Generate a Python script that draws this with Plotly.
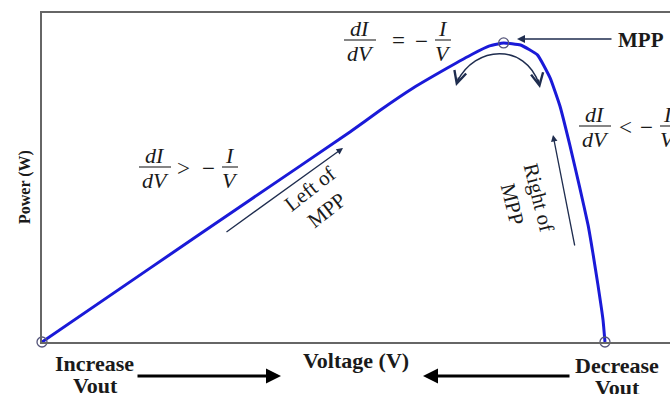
import plotly.graph_objects as go

# ---- data (P-V curve of a PV module) ----
voltage = [0, 3.84, 7.39, 10.94, 12.0, 13.2, 14.4, 15.3, 15.9, 16.4, 17.0,
           17.6, 18.05, 18.4, 18.75, 19.1, 19.4, 19.57, 19.75, 19.93, 20.0]
power = [0, 24.7, 47.5, 70.2, 77.4, 85.0, 91.6, 96.3, 99.0, 100, 99.3,
         96.0, 88.3, 78.9, 65.9, 51.8, 39.1, 29.8, 19.1, 7.4, 0]
marker_v = [0, 16.4, 20.0]
marker_p = [0, 100, 0]

X_MAX = 22.31
Y_MAX = 110.0

W, H = 670, 394
ML, MR, MT, MB = 42, 0, 13, 52
PW, PH = W - ML - MR, H - MT - MB


def px_(px):
    return (px - ML) / PW


def py_(py):
    return (H - MB - py) / PH


SERIF = "Liberation Serif"
NAVY = "#1f2d4f"
TXT = "#1a1a1a"

fig = go.Figure()
fig.add_trace(go.Scatter(x=voltage, y=power, mode="lines",
                         line=dict(color="#1a1ad8", width=3, shape="spline", smoothing=0.4),
                         hoverinfo="skip", showlegend=False))
fig.add_trace(go.Scatter(x=marker_v, y=marker_p, mode="markers",
                         marker=dict(symbol="circle-open", size=10, color="#55557a",
                                     line=dict(width=1.3)),
                         cliponaxis=False, hoverinfo="skip", showlegend=False))

ann = []
shapes = []


def text(px, py, s, size=20, bold=False, italic=False, angle=0):
    if bold:
        s = "<b>" + s + "</b>"
    if italic:
        s = "<i>" + s + "</i>"
    ann.append(dict(x=px_(px), y=py_(py), xref="paper", yref="paper", text=s,
                    showarrow=False, textangle=angle, xanchor="center", yanchor="middle",
                    font=dict(family=SERIF, size=size, color=TXT)))


def frac(cx, bar_y, num, den, half=16, size=22):
    text(cx, bar_y - 12, num, size=size, italic=True)
    text(cx, bar_y + 13, den, size=size, italic=True)
    shapes.append(dict(type="line", xref="paper", yref="paper",
                       x0=px_(cx - half), x1=px_(cx + half),
                       y0=py_(bar_y), y1=py_(bar_y), line=dict(color="#333", width=1.2)))


def arrow(x0, y0, x1, y1, color=NAVY, width=1.5, head=2, size=1.0):
    ann.append(dict(x=px_(x1), y=py_(y1), ax=x0 - x1, ay=y0 - y1, xref="paper", yref="paper",
                    axref="pixel", ayref="pixel", text="", showarrow=True, arrowhead=head,
                    arrowsize=size, arrowwidth=width, arrowcolor=color))


# fractions
frac(155, 167, "dI", "dV")
text(183, 168, "&gt;", size=23)
text(208, 168, "−", size=23)
frac(230, 167, "I", "V", half=8)

frac(360, 40, "dI", "dV")
text(398, 40, "=", size=23)
text(421, 41, "−", size=23)
frac(443, 40, "I", "V", half=8)

frac(595, 126, "dI", "dV")
text(625, 128, "&lt;", size=23)
text(646, 128, "−", size=23)
frac(668, 126, "I", "V", half=8)

# MPP label + arrow
text(641, 40, "MPP", size=21, bold=True)
arrow(613, 39, 517, 39, width=1.6)

# Left / right of MPP
text(318, 199, "Left of<br>MPP", size=21, angle=-38)
arrow(225, 233, 343, 148, width=1.3)
text(526, 200, "Right of<br>MPP", size=21, angle=76)
arrow(575, 247, 553, 135, width=1.3)

# curved double arrow near MPP
shapes.append(dict(type="path", xref="paper", yref="paper",
                   path="M {:.5f},{:.5f} C {:.5f},{:.5f} {:.5f},{:.5f} {:.5f},{:.5f}".format(
                       px_(457), py_(82), px_(475), py_(45), px_(525), py_(43), px_(539), py_(84)),
                   line=dict(color=NAVY, width=1.5)))
arrow(459, 76, 456, 86, width=1.5, head=5, size=1.6)
arrow(538, 78, 540, 88, width=1.5, head=5, size=1.6)

# axis titles and direction labels
text(356, 360, "Voltage (V)", size=22, bold=True)
text(25, 187, "Power (W)", size=16, bold=True, angle=-90)
text(94, 363, "Increase", size=22, bold=True)
text(95, 385, "Vout", size=22, bold=True)
text(617, 365, "Decrease", size=22, bold=True)
text(617, 387, "Vout", size=22, bold=True)
arrow(136, 376, 281, 376, color="black", width=3, head=2, size=1.0)
arrow(571, 376, 423, 376, color="black", width=3, head=2, size=1.0)

fig.update_layout(
    width=W, height=H,
    margin=dict(l=ML, r=MR, t=MT, b=MB),
    plot_bgcolor="white", paper_bgcolor="white",
    xaxis=dict(range=[0, X_MAX], showline=True, linecolor="#666", linewidth=1.5,
               mirror=True, showgrid=False, zeroline=False, showticklabels=False, ticks=""),
    yaxis=dict(range=[0, Y_MAX], showline=True, linecolor="#666", linewidth=1.5,
               mirror=False, showgrid=False, zeroline=False, showticklabels=False, ticks=""),
    annotations=ann, shapes=shapes,
)

fig.write_html("out.html", config={"displayModeBar": False},
               post_script="document.body.style.margin='0';")
